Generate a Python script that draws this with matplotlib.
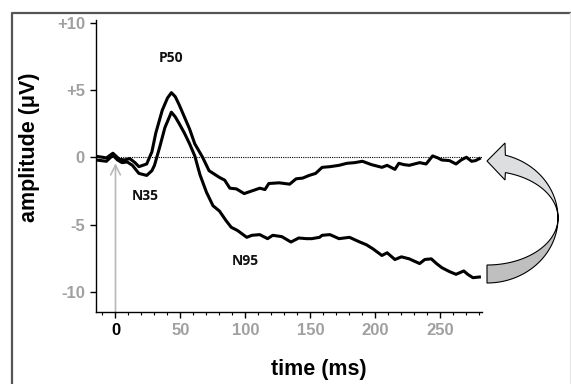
import numpy as np
import matplotlib
matplotlib.use("Agg")
import matplotlib.pyplot as plt
from matplotlib.patches import Polygon
from matplotlib.lines import Line2D
from matplotlib.transforms import Affine2D

# ---- data ----
t_upper = [-15, -10, -7, -2, 3, 7, 11, 15, 18, 24, 28, 31, 36, 40, 43, 46, 49, 53, 57, 61,
           67, 72, 80, 84, 88, 93, 99, 105, 111, 115, 118, 126, 134, 139, 144, 149, 154, 159,
           165, 172, 178, 184, 190, 197, 205, 209, 215, 218, 222, 226, 234, 239, 244, 248,
           251, 257, 262, 266, 270, 274, 277, 280]
v_upper = [0.07, 0.0, -0.05, 0.3, -0.15, -0.2, -0.1, -0.4, -0.7, -0.5, 0.4, 1.8, 3.5, 4.4,
           4.8, 4.5, 3.9, 3.0, 2.1, 1.0, 0.0, -1.0, -1.5, -1.7, -2.3, -2.35, -2.7, -2.5, -2.3,
           -2.4, -1.95, -1.9, -2.0, -1.6, -1.55, -1.35, -1.2, -0.75, -0.7, -0.6, -0.45, -0.4,
           -0.3, -0.55, -0.75, -0.6, -0.9, -0.45, -0.55, -0.6, -0.4, -0.5, 0.1, -0.05, -0.2,
           -0.25, -0.5, -0.2, 0.0, -0.3, -0.25, -0.1]

t_lower = [-15, -11, -7, -2, 1.5, 5, 9, 13, 18, 24, 28, 30, 34, 38, 43, 46, 49, 53, 57, 61,
           65, 70, 75, 80, 85, 89, 94, 101, 105, 111, 117, 121, 128, 135, 141, 147, 151, 157,
           159, 165, 172, 180, 188, 193, 198, 205, 209, 215, 220, 226, 234, 238, 243, 247,
           251, 257, 262, 268, 271, 275, 280]
v_lower = [-0.2, -0.25, -0.3, 0.15, -0.2, -0.4, -0.35, -0.6, -1.2, -1.35, -1.0, -0.6, 0.75,
           2.2, 3.35, 3.0, 2.5, 1.8, 1.0, 0.1, -1.3, -2.6, -3.6, -4.0, -4.7, -5.2, -5.45,
           -5.95, -5.8, -5.75, -6.05, -5.8, -5.9, -6.3, -6.0, -6.05, -6.05, -5.95, -5.8,
           -5.75, -6.05, -5.95, -6.3, -6.5, -6.8, -7.3, -7.1, -7.6, -7.4, -7.55, -7.9, -7.6,
           -7.55, -7.9, -8.2, -8.5, -8.7, -8.45, -8.7, -8.95, -8.9]

y_ticks = [10, 5, 0, -5, -10]
y_tick_labels = ["+10", "+5", "0", "-5", "-10"]
x_ticks = [0, 50, 100, 150, 200, 250]
x_tick_labels = ["0", "50", "100", "150", "200", "250"]

peaks = [("P50", 43, 7.4), ("N35", 23, -2.9), ("N95", 100, -7.7)]

W, H = 571, 384
fig = plt.figure(figsize=(W / 100, H / 100), dpi=100)
ax = fig.add_axes([96 / W, 1 - 312 / H, 386 / W, 292 / H])

ax.set_xlim(-15, 282)
ax.set_ylim(-11.5, 10.2)

ax.axhline(0, color="black", lw=0.8, ls=(0, (1, 1)), zorder=1)
ax.plot(t_upper, v_upper, color="black", lw=2.2, zorder=3)
ax.plot(t_lower, v_lower, color="black", lw=2.2, zorder=3)

# stimulus onset arrow
ax.annotate("", xy=(0, -0.45), xytext=(0, -11.5),
            arrowprops=dict(arrowstyle="->,head_length=0.7,head_width=0.35",
                            color="#b8b8b8", lw=1.2, shrinkA=0, shrinkB=0), zorder=2)

for name, tx, vy in peaks:
    ax.text(tx, vy, name, ha="center", va="center", fontsize=10,
            fontweight="bold", family=["Open Sans", "DejaVu Sans"], color="#111111")

for s in ["top", "right"]:
    ax.spines[s].set_visible(False)
for s in ["left", "bottom"]:
    ax.spines[s].set_linewidth(1.0)

tick_font = dict(fontsize=12, fontweight="bold", family=["Liberation Sans", "DejaVu Sans"],
                 color="#a0a0a0")
ax.set_yticks(y_ticks)
ax.set_yticklabels(y_tick_labels, **tick_font)
ax.set_xticks(x_ticks)
ax.set_xticklabels(x_tick_labels, **tick_font)
ax.set_xticks(np.arange(-10, 281, 10), minor=True)
ax.tick_params(axis="both", which="major", direction="out", length=4, width=1, pad=4)
ax.tick_params(axis="x", which="minor", direction="out", length=2, width=0.8)
ax.get_xticklabels()[0].set_color("black")

fig.text(319 / W, 1 - 370 / H, "time (ms)", ha="center", va="center", fontsize=15.5,
         fontweight="bold", family=["Liberation Sans", "DejaVu Sans"])
fig.text(30 / W, 1 - 147 / H, "amplitude (\u03bcV)", ha="center", va="center", fontsize=15.5,
         fontweight="bold", rotation=90, family=["Liberation Sans", "DejaVu Sans"])

# pixel transform (y down)
pix = Affine2D().scale(1 / W, -1 / H).translate(0, 1) + fig.transFigure

# outer frame
fig.add_artist(Line2D([12, 12, 570], [390, 12.5, 12.5], transform=pix,
                      color="#555555", lw=1.6))
fig.add_artist(Line2D([570, 570], [12.5, 390], transform=pix,
                      color="#e6e6e6", lw=1.0))

# curved return arrow (decoration)
cx, cy, rx, ry_o, ry_i = 487, 218, 71, 65, 47
th_up = np.radians(np.linspace(75, 0, 40))
outer_up = np.c_[cx + rx * np.cos(th_up), cy - ry_o * np.sin(th_up)]
inner_up = np.c_[cx + rx * np.cos(th_up[::-1]), cy - ry_i * np.sin(th_up[::-1])]
light = np.vstack([[[505, 180], [487, 161], [505, 143]], outer_up, inner_up])
fig.add_artist(Polygon(light, closed=True, transform=pix, facecolor="#dcdedf",
                       edgecolor="black", lw=0.8, zorder=5))
th_lo = np.radians(np.linspace(0, -90, 40))
outer_lo = np.c_[cx + rx * np.cos(th_lo), cy - ry_o * np.sin(th_lo)]
inner_lo = np.c_[cx + rx * np.cos(th_lo[::-1]), cy - ry_i * np.sin(th_lo[::-1])]
dark = np.vstack([outer_lo, inner_lo])
fig.add_artist(Polygon(dark, closed=True, transform=pix, facecolor="#bfbfbf",
                       edgecolor="black", lw=0.8, zorder=5))

fig.savefig("out.png", dpi=100)
